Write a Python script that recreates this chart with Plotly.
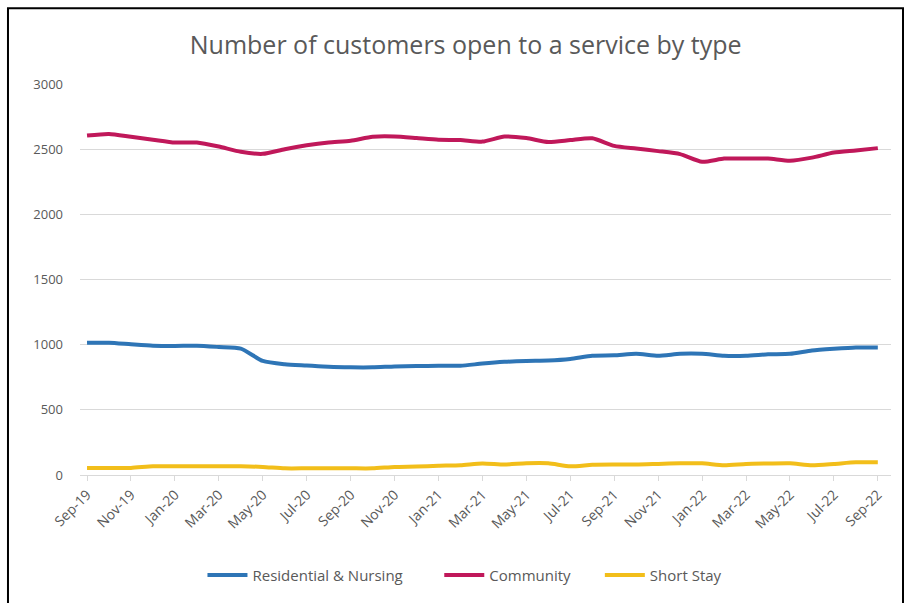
import plotly.graph_objects as go

# Monthly snapshots, Sep-19 to Sep-22
months = [
    "Sep-19", "Oct-19", "Nov-19", "Dec-19", "Jan-20", "Feb-20", "Mar-20", "Apr-20",
    "May-20", "Jun-20", "Jul-20", "Aug-20", "Sep-20", "Oct-20", "Nov-20", "Dec-20",
    "Jan-21", "Feb-21", "Mar-21", "Apr-21", "May-21", "Jun-21", "Jul-21", "Aug-21",
    "Sep-21", "Oct-21", "Nov-21", "Dec-21", "Jan-22", "Feb-22", "Mar-22", "Apr-22",
    "May-22", "Jun-22", "Jul-22", "Aug-22", "Sep-22",
]

residential_nursing = [
    1015, 1015, 1003, 992, 990, 992, 982, 970, 875, 850, 840, 830, 826, 826, 833, 836,
    838, 838, 855, 868, 875, 878, 890, 915, 918, 930, 915, 930, 930, 915, 915, 926,
    930, 955, 968, 978, 978,
]

community = [
    2605, 2617, 2595, 2573, 2551, 2551, 2520, 2480, 2464, 2500, 2530, 2552, 2565, 2595,
    2597, 2585, 2572, 2570, 2558, 2597, 2585, 2555, 2570, 2584, 2525, 2505, 2485, 2462,
    2403, 2428, 2428, 2428, 2411, 2435, 2474, 2490, 2508,
]

short_stay = [
    54, 54, 54, 67, 67, 67, 67, 67, 62, 51, 51, 51, 51, 51, 62, 65,
    71, 75, 89, 80, 90, 90, 67, 78, 80, 80, 85, 90, 90, 75, 85, 88,
    90, 75, 85, 97, 97,
]

# (name, values, colour, legend id, legend left edge in paper x)
series = [
    ("Residential & Nursing", residential_nursing, "#2E75B6", "legend", 0.151),
    ("Community", community, "#C0185A", "legend2", 0.443),
    ("Short Stay", short_stay, "#F2BE1A", "legend3", 0.641),
]

FONT = "Open Sans, sans-serif"
GREY = "#595959"

fig = go.Figure()
legends = {}
for name, values, colour, leg, lx in series:
    fig.add_trace(go.Scatter(
        x=months, y=values, name=name, mode="lines", legend=leg,
        line=dict(color=colour, width=4, shape="spline", smoothing=0.6),
    ))
    legends[leg] = dict(
        orientation="h", x=lx, xanchor="left", y=-0.253, yanchor="middle",
        font=dict(family=FONT, size=15, color=GREY),
        itemwidth=40, bgcolor="rgba(0,0,0,0)", borderwidth=0,
    )

fig.update_layout(
    width=906, height=603,
    margin=dict(l=80, r=15, t=84, b=127),
    paper_bgcolor="white", plot_bgcolor="white",
    title=dict(
        text="Number of customers open to a service by type",
        x=0.514, xanchor="center", y=0.925, yanchor="middle",
        font=dict(family=FONT, size=25, color=GREY),
    ),
    font=dict(family=FONT, size=12, color=GREY),
    showlegend=True,
    **legends,
    xaxis=dict(
        type="category", range=[-0.32, 36.6],
        tickmode="array", tickvals=months[::2], ticktext=months[::2],
        tickangle=-45, ticks="outside", ticklen=5, tickcolor="#d9d9d9",
        showgrid=False, showline=True, linecolor="#d9d9d9", linewidth=1,
        zeroline=False, tickfont=dict(size=14, color=GREY),
    ),
    yaxis=dict(
        range=[0, 3000], tickvals=[0, 500, 1000, 1500, 2000, 2500, 3000],
        showgrid=True, gridcolor="#d9d9d9", gridwidth=1,
        zeroline=False, showline=False, ticks="",
        ticklabelstandoff=16, tickfont=dict(size=13, color=GREY),
    ),
    shapes=[dict(
        type="rect", xref="paper", yref="paper",
        x0=-0.0888, x1=1.0148, y0=-0.34, y1=1.194,
        line=dict(color="black", width=2), fillcolor="rgba(0,0,0,0)",
        layer="above",
    )],
)

fig.write_html("out.html")
